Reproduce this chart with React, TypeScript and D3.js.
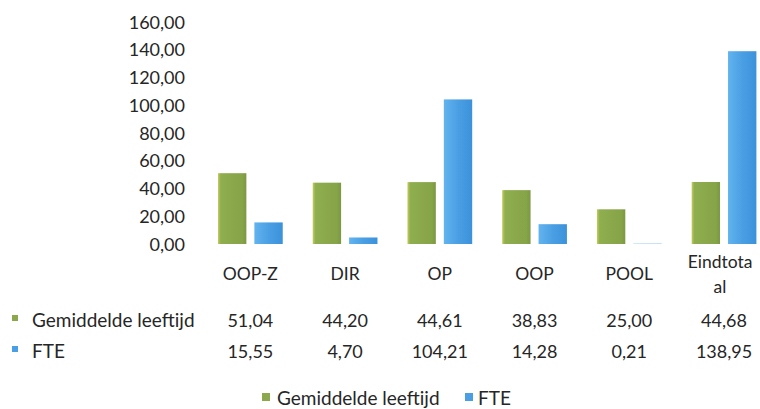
import React from "react";
import * as d3 from "d3";

const categories = ["OOP-Z", "DIR", "OP", "OOP", "POOL", "Eindtotaal"];
const categoryLabelLines = [["OOP-Z"], ["DIR"], ["OP"], ["OOP"], ["POOL"], ["Eindtota", "al"]];
const seriesNames = ["Gemiddelde leeftijd", "FTE"];
const gemiddeldeLeeftijd = [51.04, 44.2, 44.61, 38.83, 25.0, 44.68];
const fte = [15.55, 4.7, 104.21, 14.28, 0.21, 138.95];
const yTicks = [0, 20, 40, 60, 80, 100, 120, 140, 160];

const W = 760;
const H = 409;
const FONT = "Lato, 'Open Sans', sans-serif";
const GREEN = "#8ba94c";
const BLUE = "#4a9fe4";
const TEXT = "#262626";

const fmt = (v: number) => v.toFixed(2).replace(".", ",");

export default function App() {
  const y = d3.scaleLinear().domain([0, 160]).range([244, 22]);
  const x = d3.scaleBand<string>().domain(categories).range([203, 771.4]);
  const sub = d3.scaleBand<string>().domain(seriesNames).range([15, x.bandwidth() - 15]).paddingInner(0.22);
  const series = [gemiddeldeLeeftijd, fte];
  const colors = [GREEN, BLUE];
  const center = (c: string) => (x(c) as number) + x.bandwidth() / 2;

  return (
    <svg width={W} height={H} style={{ position: "absolute", left: 0, top: 0, background: "#fff" }} fontFamily={FONT}>
      <defs>
        <linearGradient id="gGreen" x1="0" x2="1" y1="0" y2="0">
          <stop offset="0" stopColor="#c4cc5c" />
          <stop offset="0.1" stopColor="#8fae4e" />
          <stop offset="0.85" stopColor="#86a448" />
          <stop offset="1" stopColor="#7c9844" />
        </linearGradient>
        <linearGradient id="gBlue" x1="0" x2="1" y1="0" y2="0">
          <stop offset="0" stopColor="#62b4ee" />
          <stop offset="0.5" stopColor="#4a9fe4" />
          <stop offset="1" stopColor="#3c92da" />
        </linearGradient>
      </defs>
      {yTicks.map((t) => (
        <text key={t} x={185} y={y(t) + 6.5} textAnchor="end" fontSize={18} fill={TEXT}>
          {fmt(t)}
        </text>
      ))}
      {series.map((vals, si) =>
        categories.map((c, ci) => (
          <rect
            key={`${si}-${ci}`}
            x={(x(c) as number) + (sub(seriesNames[si]) as number)}
            y={y(vals[ci])}
            width={sub.bandwidth()}
            height={y(0) - y(vals[ci])}
            fill={si === 0 ? "url(#gGreen)" : "url(#gBlue)"}
          />
        ))
      )}
      {categories.map((c, ci) => {
        const lines = categoryLabelLines[ci];
        const y0 = lines.length > 1 ? 268 : 280;
        return (
          <text key={c} x={center(c)} y={y0} textAnchor="middle" fontSize={17.5} fill={TEXT}>
            {lines.map((l, li) => (
              <tspan key={li} x={center(c) - (lines.length > 1 ? 4 : 0)} y={y0 + li * 25}>
                {l}
              </tspan>
            ))}
          </text>
        );
      })}
      {series.map((vals, si) => {
        const rowY = si === 0 ? 327 : 358;
        return (
          <g key={si}>
            <rect x={12} y={rowY - 12} width={6} height={6} fill={colors[si]} />
            <text x={32} y={rowY} fontSize={19} fill={TEXT}>
              {seriesNames[si]}
            </text>
            {categories.map((c, ci) => (
              <text key={c} x={center(c)} y={rowY} textAnchor="middle" fontSize={18} fill={TEXT}>
                {fmt(vals[ci])}
              </text>
            ))}
          </g>
        );
      })}
      <g>
        <rect x={262} y={393} width={8} height={8} fill={GREEN} />
        <text x={277} y={405} fontSize={19} fill={TEXT}>
          {seriesNames[0]}
        </text>
        <rect x={465} y={393} width={8} height={8} fill={BLUE} />
        <text x={478} y={405} fontSize={19} fill={TEXT}>
          {seriesNames[1]}
        </text>
      </g>
    </svg>
  );
}
